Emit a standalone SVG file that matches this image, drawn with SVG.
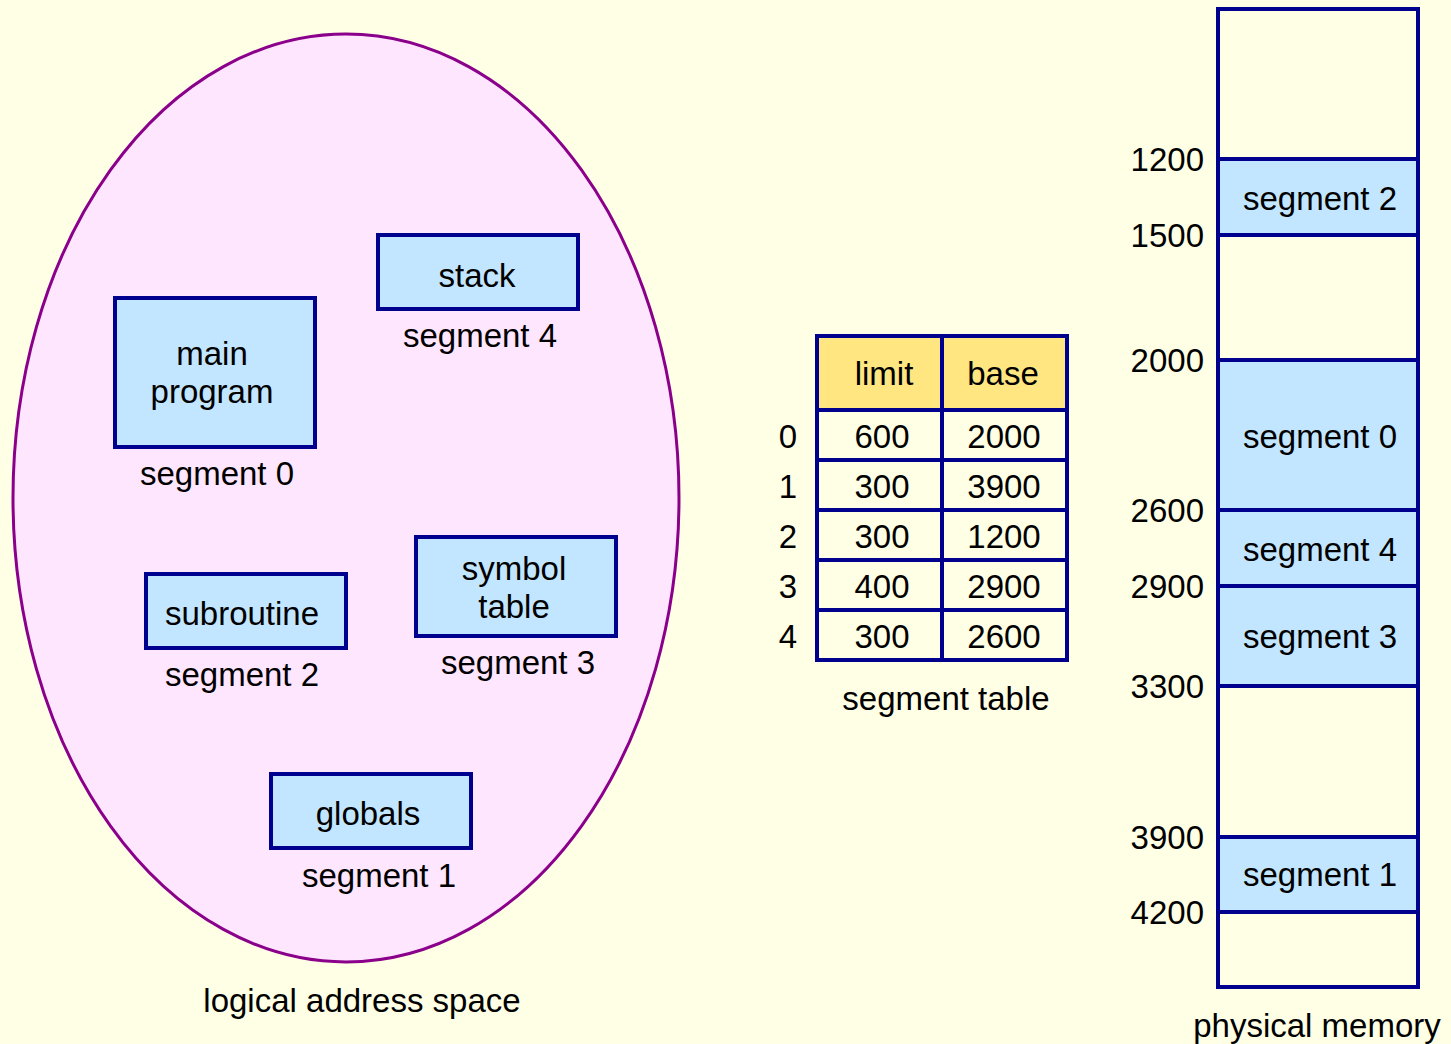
<svg xmlns="http://www.w3.org/2000/svg" width="1451" height="1044" viewBox="0 0 1451 1044">
<style>
text{font-family:"Liberation Sans",Arial,sans-serif;font-size:33px;fill:#000;text-anchor:middle}
.r{text-anchor:end}
.box{fill:#C2E6FF;stroke:#00008E;stroke-width:4}
.emp{fill:#FFFFE6;stroke:#00008E;stroke-width:4}
.hdr{fill:#FFE680;stroke:#00008E;stroke-width:4}
.ln{stroke:#00008E;stroke-width:4;fill:none}
</style>
<rect width="1451" height="1044" fill="#FFFFE6"/>
<g id="logical">
<ellipse cx="346" cy="498" rx="333" ry="464" fill="#FFE6FF" stroke="#8B008B" stroke-width="3"/>
<text x="362" y="1012">logical address space</text>
</g>
<g id="main-program">
<rect class="box" x="115" y="298" width="200" height="149"/>
<text x="212" y="365">main</text>
<text x="212" y="403">program</text>
<text x="217" y="485">segment 0</text>
</g>
<g id="stack">
<rect class="box" x="378" y="235" width="200" height="74"/>
<text x="477" y="287">stack</text>
<text x="480" y="347">segment 4</text>
</g>
<g id="subroutine">
<rect class="box" x="146" y="574" width="200" height="74"/>
<text x="242" y="625">subroutine</text>
<text x="242" y="686">segment 2</text>
</g>
<g id="symbol-table">
<rect class="box" x="416" y="537" width="200" height="99"/>
<text x="514" y="580">symbol</text>
<text x="514" y="618">table</text>
<text x="518" y="674">segment 3</text>
</g>
<g id="globals">
<rect class="box" x="271" y="774" width="200" height="74"/>
<text x="368" y="825">globals</text>
<text x="379" y="887">segment 1</text>
</g>
<g id="segment-table">
<rect class="hdr" x="817" y="336" width="250" height="74"/>
<rect class="emp" x="817" y="410" width="250" height="250"/>
<path class="ln" d="M817 460H1067M817 510H1067M817 560H1067M817 610H1067M942 336V660"/>
<text x="884" y="385">limit</text>
<text x="1003" y="385">base</text>
<text x="788" y="448">0</text><text x="882" y="448">600</text><text x="1004" y="448">2000</text>
<text x="788" y="498">1</text><text x="882" y="498">300</text><text x="1004" y="498">3900</text>
<text x="788" y="548">2</text><text x="882" y="548">300</text><text x="1004" y="548">1200</text>
<text x="788" y="598">3</text><text x="882" y="598">400</text><text x="1004" y="598">2900</text>
<text x="788" y="648">4</text><text x="882" y="648">300</text><text x="1004" y="648">2600</text>
<text x="946" y="710">segment table</text>
</g>
<g id="physical-memory">
<rect class="emp" x="1218" y="9" width="200" height="978"/>
<rect class="box" x="1218" y="159" width="200" height="76"/>
<rect class="box" x="1218" y="360" width="200" height="150"/>
<rect class="box" x="1218" y="510" width="200" height="76"/>
<rect class="box" x="1218" y="586" width="200" height="100"/>
<rect class="box" x="1218" y="837" width="200" height="75"/>
<text x="1320" y="210">segment 2</text>
<text x="1320" y="448">segment 0</text>
<text x="1320" y="561">segment 4</text>
<text x="1320" y="648">segment 3</text>
<text x="1320" y="886">segment 1</text>
<text class="r" x="1204" y="171">1200</text>
<text class="r" x="1204" y="247">1500</text>
<text class="r" x="1204" y="372">2000</text>
<text class="r" x="1204" y="522">2600</text>
<text class="r" x="1204" y="598">2900</text>
<text class="r" x="1204" y="698">3300</text>
<text class="r" x="1204" y="849">3900</text>
<text class="r" x="1204" y="924">4200</text>
<text x="1317" y="1037">physical memory</text>
</g>
</svg>
